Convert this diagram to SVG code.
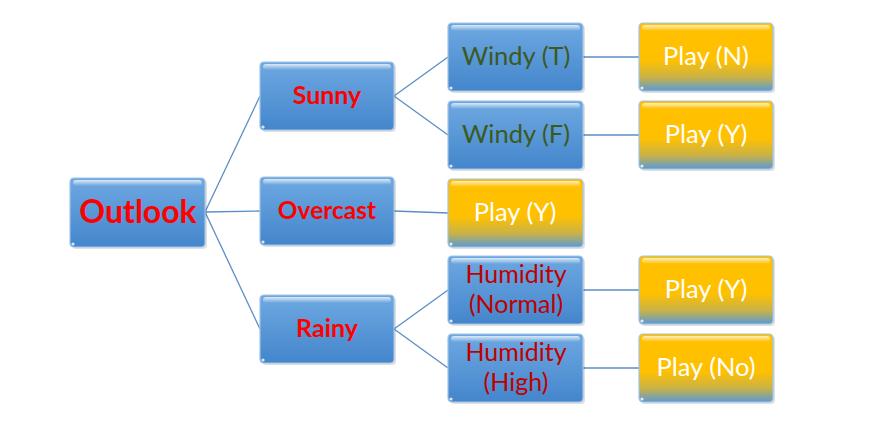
<svg xmlns="http://www.w3.org/2000/svg" width="876" height="427" viewBox="0 0 876 427">
<defs>
<linearGradient id="gBlue" x1="0" y1="0" x2="0" y2="1">
<stop offset="0" stop-color="#6ea8e1"/>
<stop offset="1" stop-color="#4486cc"/>
</linearGradient>
<linearGradient id="gYel" x1="0" y1="0" x2="0" y2="1">
<stop offset="0" stop-color="#ffc000"/>
<stop offset="0.55" stop-color="#ffc000"/>
<stop offset="0.8" stop-color="#c9b247"/>
<stop offset="1" stop-color="#5a9ad5"/>
</linearGradient>
<linearGradient id="gHi" x1="0" y1="0" x2="0" y2="1">
<stop offset="0" stop-color="#ffffff" stop-opacity="0.75"/>
<stop offset="1" stop-color="#ffffff" stop-opacity="0"/>
</linearGradient>
</defs>
<style>
.box{stroke:#9fc3e8;stroke-width:1.2}
.blue{fill:url(#gBlue)}
.yel{fill:url(#gYel)}
.hi{fill:url(#gHi)}
.dot{fill:#ffffff;opacity:0.8}
.shadow{fill:#000;opacity:0.12}
text{font-family:Lato,"Open Sans","Liberation Sans",sans-serif;text-anchor:middle}
.red{fill:#ff0000;font-weight:bold}
.green{fill:#3b5a20;font-size:25.5px}
.dred{fill:#c00000;font-size:25px}
.white{fill:#ffffff;font-size:25.5px}
.conn line{stroke:#5b8ec6;stroke-width:1.3}
</style>
<g class="conn" id="connectors">
<line x1="205" y1="212" x2="260" y2="96"/>
<line x1="205" y1="212" x2="260" y2="211"/>
<line x1="205" y1="212" x2="260" y2="329"/>
<line x1="394" y1="96" x2="448" y2="57"/>
<line x1="394" y1="96" x2="448" y2="135"/>
<line x1="394" y1="211" x2="448" y2="213"/>
<line x1="394" y1="329" x2="448" y2="290"/>
<line x1="394" y1="329" x2="448" y2="368"/>
<line x1="583" y1="57" x2="639" y2="57"/>
<line x1="583" y1="135" x2="639" y2="135"/>
<line x1="583" y1="290" x2="639" y2="290"/>
<line x1="583" y1="368" x2="639" y2="368"/>
</g>
<g id="outlook">
<rect class="shadow" x="72" y="180" width="135" height="69" rx="4"/>
<rect class="box blue" x="70" y="178" width="135" height="69" rx="4"/>
<rect class="hi" x="73" y="180" width="129" height="6" rx="3"/>
<circle class="dot" cx="73" cy="244" r="1.6"/>
<text class="red" x="138" y="223" font-size="32">Outlook</text>
</g>
<g id="sunny">
<rect class="shadow" x="262" y="64" width="134" height="68" rx="4"/>
<rect class="box blue" x="260" y="62" width="134" height="68" rx="4"/>
<rect class="hi" x="263" y="64" width="128" height="6" rx="3"/>
<circle class="dot" cx="263" cy="127" r="1.6"/>
<text class="red" x="327" y="104" font-size="25">Sunny</text>
</g>
<g id="overcast">
<rect class="shadow" x="262" y="179" width="134" height="68" rx="4"/>
<rect class="box blue" x="260" y="177" width="134" height="68" rx="4"/>
<rect class="hi" x="263" y="179" width="128" height="6" rx="3"/>
<circle class="dot" cx="263" cy="242" r="1.6"/>
<text class="red" x="327" y="219" font-size="24.5">Overcast</text>
</g>
<g id="rainy">
<rect class="shadow" x="262" y="297" width="134" height="68" rx="4"/>
<rect class="box blue" x="260" y="295" width="134" height="68" rx="4"/>
<rect class="hi" x="263" y="297" width="128" height="6" rx="3"/>
<circle class="dot" cx="263" cy="360" r="1.6"/>
<text class="red" x="327" y="337" font-size="25">Rainy</text>
</g>
<g id="windyT">
<rect class="shadow" x="450" y="25" width="135" height="68" rx="4"/>
<rect class="box blue" x="448" y="23" width="135" height="68" rx="4"/>
<rect class="hi" x="451" y="25" width="129" height="6" rx="3"/>
<circle class="dot" cx="451" cy="88" r="1.6"/>
<text class="green" x="516" y="65">Windy (T)</text>
</g>
<g id="windyF">
<rect class="shadow" x="450" y="103" width="135" height="68" rx="4"/>
<rect class="box blue" x="448" y="101" width="135" height="68" rx="4"/>
<rect class="hi" x="451" y="103" width="129" height="6" rx="3"/>
<circle class="dot" cx="451" cy="166" r="1.6"/>
<text class="green" x="516" y="143">Windy (F)</text>
</g>
<g id="humNormal">
<rect class="shadow" x="450" y="258" width="135" height="68" rx="4"/>
<rect class="box blue" x="448" y="256" width="135" height="68" rx="4"/>
<rect class="hi" x="451" y="258" width="129" height="6" rx="3"/>
<circle class="dot" cx="451" cy="321" r="1.6"/>
<text class="dred" x="516" y="283">Humidity</text>
<text class="dred" x="516" y="313">(Normal)</text>
</g>
<g id="humHigh">
<rect class="shadow" x="450" y="336" width="135" height="68" rx="4"/>
<rect class="box blue" x="448" y="334" width="135" height="68" rx="4"/>
<rect class="hi" x="451" y="336" width="129" height="6" rx="3"/>
<circle class="dot" cx="451" cy="399" r="1.6"/>
<text class="dred" x="516" y="361">Humidity</text>
<text class="dred" x="516" y="391">(High)</text>
</g>
<g id="playN">
<rect class="shadow" x="641" y="25" width="134" height="68" rx="4"/>
<rect class="box yel" x="639" y="23" width="134" height="68" rx="4"/>
<rect class="hi" x="642" y="25" width="128" height="6" rx="3"/>
<circle class="dot" cx="642" cy="88" r="1.6"/>
<text class="white" x="706" y="65">Play (N)</text>
</g>
<g id="playY1">
<rect class="shadow" x="641" y="103" width="134" height="68" rx="4"/>
<rect class="box yel" x="639" y="101" width="134" height="68" rx="4"/>
<rect class="hi" x="642" y="103" width="128" height="6" rx="3"/>
<circle class="dot" cx="642" cy="166" r="1.6"/>
<text class="white" x="706" y="143">Play (Y)</text>
</g>
<g id="playY2">
<rect class="shadow" x="450" y="181" width="135" height="68" rx="4"/>
<rect class="box yel" x="448" y="179" width="135" height="68" rx="4"/>
<rect class="hi" x="451" y="181" width="129" height="6" rx="3"/>
<circle class="dot" cx="451" cy="244" r="1.6"/>
<text class="white" x="515" y="221">Play (Y)</text>
</g>
<g id="playY3">
<rect class="shadow" x="641" y="258" width="134" height="68" rx="4"/>
<rect class="box yel" x="639" y="256" width="134" height="68" rx="4"/>
<rect class="hi" x="642" y="258" width="128" height="6" rx="3"/>
<circle class="dot" cx="642" cy="321" r="1.6"/>
<text class="white" x="706" y="298">Play (Y)</text>
</g>
<g id="playNo">
<rect class="shadow" x="641" y="336" width="134" height="68" rx="4"/>
<rect class="box yel" x="639" y="334" width="134" height="68" rx="4"/>
<rect class="hi" x="642" y="336" width="128" height="6" rx="3"/>
<circle class="dot" cx="642" cy="399" r="1.6"/>
<text class="white" x="706" y="376">Play (No)</text>
</g>
</svg>
